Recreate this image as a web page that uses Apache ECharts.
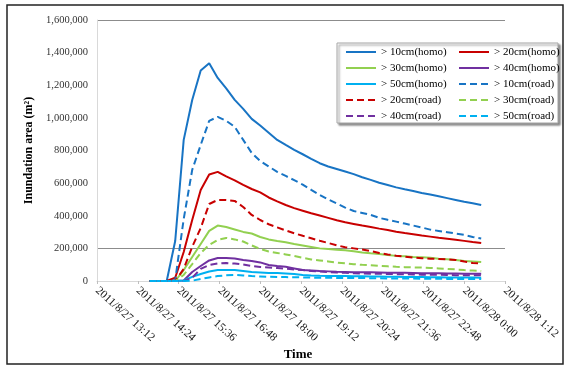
<!DOCTYPE html>
<html>
<head>
<meta charset="utf-8">
<script src="https://cdn.jsdelivr.net/npm/echarts@6/dist/echarts.min.js"></script>
<style>html,body{margin:0;padding:0;background:#fff}#c{width:570px;height:367px}</style>
</head>
<body>
<div id="c"></div>
<script>
// Tick labels (every 72 minutes, from 2011/8/27 13:12)
const tickLabels = ['2011/8/27 13:12','2011/8/27 14:24','2011/8/27 15:36','2011/8/27 16:48','2011/8/27 18:00','2011/8/27 19:12','2011/8/27 20:24','2011/8/27 21:36','2011/8/27 22:48','2011/8/28 0:00','2011/8/28 1:12'];
// Sample times, minutes after 2011/8/27 13:12 (14:45 ... 0:30, every 15 min)
const timeMin = [93,108,123,138,153,168,183,198,213,228,243,258,273,288,303,318,333,348,363,378,393,408,423,438,453,468,483,498,513,528,543,558,573,588,603,618,633,648,663,678];
// Inundation area, thousands of m2
const homo10 = [0,0,0,245,865,1110,1290,1335,1245,1181,1110,1055,994,953,909,865,834,804,777,749,722,702,687,671,655,636,620,602,588,574,562,552,540,530,519,508,497,486,476,466];
const homo20 = [0,0,0,20,178,374,558,653,669,641,617,589,564,543,512,488,466,447,431,415,401,387,372,360,350,340,331,321,312,302,294,287,279,272,265,259,253,246,239,233];
const homo30 = [0,0,0,0,67,147,227,307,340,331,316,301,291,270,255,245,237,227,218,209,200,196,192,188,182,175,170,166,160,154,151,147,145,142,137,133,129,123,120,117];
const homo40 = [0,0,0,0,3,55,92,126,141,141,138,129,123,114,98,92,87,77,67,64,61,59,56,55,54,54,53,52,51,50,50,49,48,48,47,46,46,45,45,44];
const homo50 = [0,0,0,0,3,25,43,58,67,67,67,61,55,52,49,49,46,43,37,34,32,31,30,30,29,29,28,27,26,26,25,24,24,23,23,22,22,21,21,20];
const road10 = [0,0,0,5,380,681,834,982,1006,982,945,865,785,736,702,669,644,618,591,559,528,500,475,450,429,417,405,387,375,364,352,340,328,315,307,299,291,283,270,261];
const road20 = [0,0,0,0,74,209,325,472,497,497,491,454,405,374,348,329,310,293,277,262,247,233,219,207,200,193,184,172,163,155,149,144,140,137,135,132,129,119,110,107];
const road30 = [0,0,0,0,37,104,172,221,252,264,255,242,218,196,181,172,163,153,142,132,126,120,113,108,103,99,97,93,90,87,85,83,82,80,77,74,71,67,64,61];
const road40 = [0,0,0,0,0,20,74,98,107,110,107,101,92,86,83,80,75,71,67,61,58,55,52,50,48,46,45,44,43,42,41,40,39,38,38,37,36,36,35,35];
const road50 = [0,0,0,0,0,2,12,22,30,35,37,34,30,28,26,25,24,23,22,21,20,20,19,19,18,18,17,17,16,16,15,15,14,14,14,13,13,13,12,12];

const seriesDefs = [
  {name:'> 10cm(homo)', data:homo10, color:'#1874C4', dash:false},
  {name:'> 20cm(homo)', data:homo20, color:'#C80000', dash:false},
  {name:'> 30cm(homo)', data:homo30, color:'#92D050', dash:false},
  {name:'> 40cm(homo)', data:homo40, color:'#7030A0', dash:false},
  {name:'> 50cm(homo)', data:homo50, color:'#00B0F0', dash:false},
  {name:'> 10cm(road)', data:road10, color:'#1874C4', dash:true},
  {name:'> 20cm(road)', data:road20, color:'#C80000', dash:true},
  {name:'> 30cm(road)', data:road30, color:'#92D050', dash:true},
  {name:'> 40cm(road)', data:road40, color:'#7030A0', dash:true},
  {name:'> 50cm(road)', data:road50, color:'#00B0F0', dash:true}
];

const font = 'Liberation Serif';
const legendText = {fontFamily:font, fontSize:11, color:'#000', lineHeight:14};
const legendItem = {opacity:0, color:'transparent', borderWidth:0};
const chart = echarts.init(document.getElementById('c'), null, {renderer:'canvas'});
chart.setOption({
  animation:false,
  backgroundColor:'#fff',
  graphic:[
    {type:'rect', z:0, shape:{x:7,y:5,width:556,height:359}, style:{fill:'none', stroke:'#222', lineWidth:1.5}},
    {type:'rect', z:3, shape:{x:337,y:43,width:221,height:80}, style:{fill:'#fff', stroke:'#a6a6a6', lineWidth:1, shadowColor:'rgba(0,0,0,0.45)', shadowOffsetX:2, shadowOffsetY:2, shadowBlur:2}},
    {type:'text', z:5, style:{text:'Time', x:298, y:355, font:'bold 13px "Liberation Serif"', fill:'#000', align:'center', verticalAlign:'middle'}}
  ],
  legend:[
    {left:345, top:45, orient:'vertical', padding:0, itemWidth:30, itemHeight:10, itemGap:2, textStyle:legendText, itemStyle:legendItem,
     data:['> 10cm(homo)','> 30cm(homo)','> 50cm(homo)','> 20cm(road)','> 40cm(road)']},
    {left:458, top:45, orient:'vertical', padding:0, itemWidth:30, itemHeight:10, itemGap:2, textStyle:legendText, itemStyle:legendItem,
     data:['> 20cm(homo)','> 40cm(homo)','> 10cm(road)','> 30cm(road)','> 50cm(road)']}
  ],
  grid:{left:97, right:65, top:20, bottom:86, containLabel:false},
  xAxis:{
    type:'value', min:0, max:720, interval:72,
    axisLine:{show:true, onZero:false, lineStyle:{color:'#d9d9d9', width:1}},
    axisTick:{show:true, length:3, lineStyle:{color:'#bfbfbf'}},
    splitLine:{show:false},
    axisLabel:{rotate:-42, margin:8, fontFamily:font, fontSize:11.5, color:'#222', showMaxLabel:true, showMinLabel:true,
      formatter:function(v){ return tickLabels[Math.round(v/72)]; }}
  },
  yAxis:{
    type:'value', min:0, max:1600000, interval:200000,
    name:'Inundation area (m²)', nameLocation:'middle', nameGap:61, nameRotate:90,
    nameTextStyle:{fontFamily:font, fontSize:12, fontWeight:'bold', color:'#000'},
    axisLine:{show:true, lineStyle:{color:'#d9d9d9', width:1}},
    axisTick:{show:false},
    axisLabel:{fontFamily:font, fontSize:10.5, color:'#333', margin:9,
      formatter:function(v){ return v.toLocaleString('en-US'); }},
    splitLine:{show:true, lineStyle:{width:1, color:['transparent','#8c8c8c','transparent','transparent','transparent','transparent','transparent','transparent','#8c8c8c']}}
  },
  series: seriesDefs.map(function(s){
    return {
      name:s.name, type:'line', showSymbol:false, symbol:'none', smooth:false,
      data: timeMin.map(function(t,i){ return [t, s.data[i]*1000]; }),
      lineStyle:{color:s.color, width:2, type: s.dash ? [7,4] : 'solid'},
      itemStyle:{color:s.color}
    };
  })
});
</script>
</body>
</html>
